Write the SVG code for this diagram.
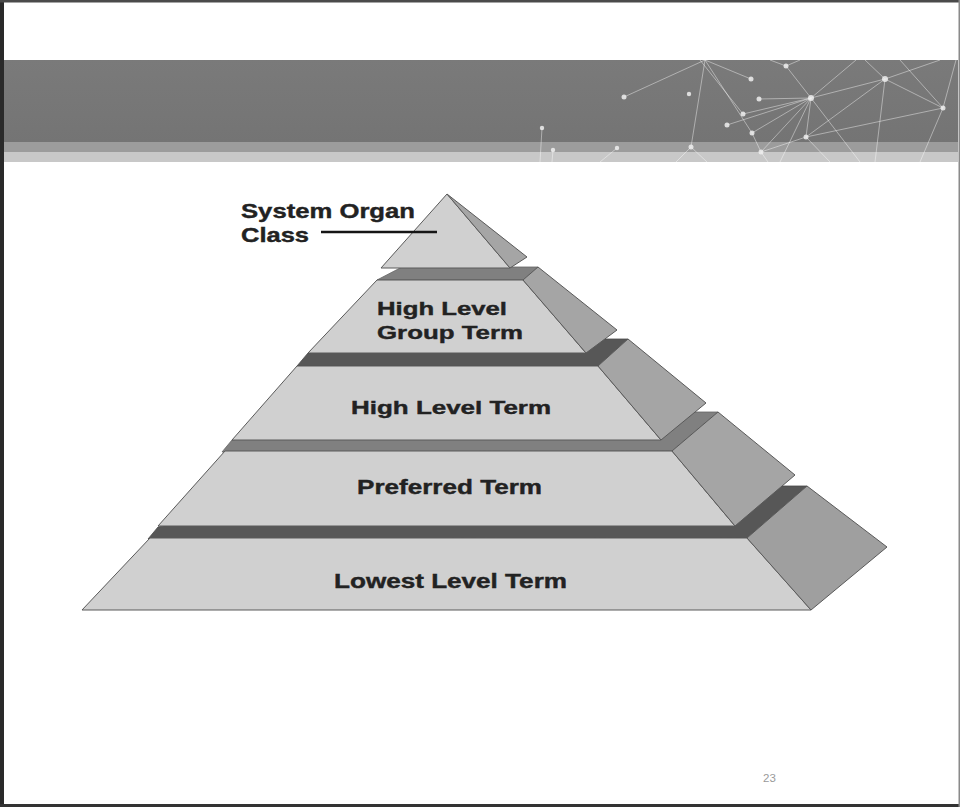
<svg xmlns="http://www.w3.org/2000/svg" width="960" height="807" viewBox="0 0 960 807">
<defs>
<style>
.front{fill:#d0d0d0;stroke:#5a5a5a;stroke-width:1}
.side{fill:#a5a5a5;stroke:#5a5a5a;stroke-width:1}
.bandD{fill:#575757;stroke:#4a4a4a;stroke-width:0.8}
.bandM{fill:#808080;stroke:#666;stroke-width:0.8}
.lbl{font-family:"Liberation Sans",Arial,sans-serif;font-weight:bold;fill:#222222;stroke:#222222;stroke-width:0.4}
.net{stroke:#ffffff;stroke-opacity:0.42;stroke-width:1;fill:none}
.dot{fill:#eeeeee;fill-opacity:0.85}
</style>
<linearGradient id="bn" x1="0" y1="0" x2="0" y2="1">
<stop offset="0" stop-color="#7a7a7a"/>
<stop offset="1" stop-color="#747474"/>
</linearGradient>
</defs>
<rect x="0" y="0" width="960" height="807" fill="#ffffff"/>
<g id="banner">
<rect x="4" y="60" width="954" height="82" fill="url(#bn)"/>
<rect x="4" y="142" width="954" height="10" fill="#9c9c9c"/>
<rect x="4" y="152" width="954" height="10" fill="#c8c8c8"/>
<g class="net">
<line x1="705" y1="60" x2="624" y2="97"/>
<line x1="705" y1="60" x2="751" y2="79"/>
<line x1="705" y1="60" x2="691" y2="147"/>
<line x1="691" y1="147" x2="676" y2="162"/>
<line x1="691" y1="147" x2="707" y2="162"/>
<line x1="705" y1="60" x2="752" y2="133"/>
<line x1="752" y1="133" x2="761" y2="152"/>
<line x1="761" y1="152" x2="768" y2="162"/>
<line x1="542" y1="128" x2="540" y2="162"/>
<line x1="553" y1="150" x2="552" y2="162"/>
<line x1="617" y1="148" x2="600" y2="162"/>
<line x1="811" y1="98" x2="743" y2="114"/>
<line x1="811" y1="98" x2="727" y2="125"/>
<line x1="811" y1="98" x2="759" y2="99"/>
<line x1="811" y1="98" x2="786" y2="66"/>
<line x1="786" y1="66" x2="770" y2="60"/>
<line x1="811" y1="98" x2="885" y2="79"/>
<line x1="811" y1="98" x2="806" y2="137"/>
<line x1="811" y1="98" x2="752" y2="133"/>
<line x1="811" y1="98" x2="761" y2="152"/>
<line x1="811" y1="98" x2="856" y2="60"/>
<line x1="811" y1="98" x2="860" y2="162"/>
<line x1="811" y1="98" x2="780" y2="162"/>
<line x1="806" y1="137" x2="761" y2="152"/>
<line x1="806" y1="137" x2="830" y2="162"/>
<line x1="806" y1="137" x2="885" y2="79"/>
<line x1="806" y1="137" x2="943" y2="108"/>
<line x1="885" y1="79" x2="943" y2="108"/>
<line x1="885" y1="79" x2="940" y2="60"/>
<line x1="885" y1="79" x2="865" y2="60"/>
<line x1="885" y1="79" x2="875" y2="162"/>
<line x1="943" y1="108" x2="956" y2="60"/>
<line x1="943" y1="108" x2="920" y2="162"/>
<line x1="943" y1="108" x2="900" y2="60"/>
<line x1="786" y1="66" x2="800" y2="60"/>
<line x1="743" y1="114" x2="700" y2="60"/>
</g>
<g>
<circle class="dot" cx="624" cy="97" r="2.5"/>
<circle class="dot" cx="689" cy="94" r="2.2"/>
<circle class="dot" cx="751" cy="79" r="2.5"/>
<circle class="dot" cx="759" cy="99" r="2.5"/>
<circle class="dot" cx="786" cy="66" r="2.5"/>
<circle class="dot" cx="811" cy="98" r="3"/>
<circle class="dot" cx="885" cy="79" r="3"/>
<circle class="dot" cx="943" cy="108" r="2.5"/>
<circle class="dot" cx="743" cy="114" r="2.5"/>
<circle class="dot" cx="727" cy="125" r="2.5"/>
<circle class="dot" cx="752" cy="133" r="2.5"/>
<circle class="dot" cx="806" cy="137" r="2.5"/>
<circle class="dot" cx="542" cy="128" r="2.2"/>
<circle class="dot" cx="553" cy="150" r="2.2"/>
<circle class="dot" cx="617" cy="148" r="2.2"/>
<circle class="dot" cx="691" cy="147" r="2.5"/>
<circle class="dot" cx="761" cy="152" r="2.5"/>
</g>
</g>
<g id="tier-lowest-level-term">
<polygon class="bandD" points="148,539 747,538 807,486 400,486 158,527"/>
<polygon class="front" points="150,538 747,538 811,610 82,610"/>
<polygon class="side" points="747,538 807,486 887,547 811,610" style="fill:#9f9f9f"/>
<text class="lbl" x="334" y="588" font-size="20" textLength="233" lengthAdjust="spacingAndGlyphs">Lowest Level Term</text>
</g>
<g id="tier-preferred-term">
<polygon class="bandM" points="222,452 672,451 718,412 400,412 232,440"/>
<polygon class="front" points="225,451 672,451 735,526 158,526"/>
<polygon class="side" points="672,451 718,412 795,475 735,526"/>
<text class="lbl" x="357" y="494" font-size="20" textLength="185" lengthAdjust="spacingAndGlyphs">Preferred Term</text>
</g>
<g id="tier-high-level-term">
<polygon class="bandD" points="297,366 598,366 628,339 400,339 308,353"/>
<polygon class="front" points="297,366 598,366 661,440 232,440"/>
<polygon class="side" points="598,366 628,339 706,403 661,440"/>
<text class="lbl" x="351" y="414" font-size="19" textLength="200" lengthAdjust="spacingAndGlyphs">High Level Term</text>
</g>
<g id="tier-high-level-group-term">
<polygon class="bandM" points="377,280 523,280 538,267 402,267"/>
<polygon class="front" points="377,280 523,280 586,353 308,353"/>
<polygon class="side" points="523,280 538,267 617,330 586,353"/>
<text class="lbl" x="377" y="315" font-size="19" textLength="130" lengthAdjust="spacingAndGlyphs">High Level</text>
<text class="lbl" x="377" y="339" font-size="19" textLength="146" lengthAdjust="spacingAndGlyphs">Group Term</text>
</g>
<g id="tier-system-organ-class">
<polygon class="front" points="447,194 510,268 381,268"/>
<polygon class="side" points="447,194 527,257 510,268"/>
<text class="lbl" x="241" y="218" font-size="20.5" textLength="174" lengthAdjust="spacingAndGlyphs">System Organ</text>
<text class="lbl" x="241" y="242" font-size="20.5" textLength="68" lengthAdjust="spacingAndGlyphs">Class</text>
</g>
<g id="connectors">
<line x1="321" y1="232" x2="437" y2="232" stroke="#151515" stroke-width="2.5"/>
</g>
<g id="page-number">
<text x="763" y="782" font-family="'Liberation Sans',Arial,sans-serif" font-size="11.5" fill="#9a9a9a">23</text>
</g>
<g id="frame">
<rect x="0" y="0" width="4" height="807" fill="#2a2a2a"/>
<rect x="0" y="0" width="960" height="2.5" fill="#4a4a4a"/>
<rect x="0" y="804" width="960" height="3" fill="#333333"/>
<rect x="958.5" y="0" width="1.5" height="807" fill="#8a8a8a"/>
</g>
</svg>
